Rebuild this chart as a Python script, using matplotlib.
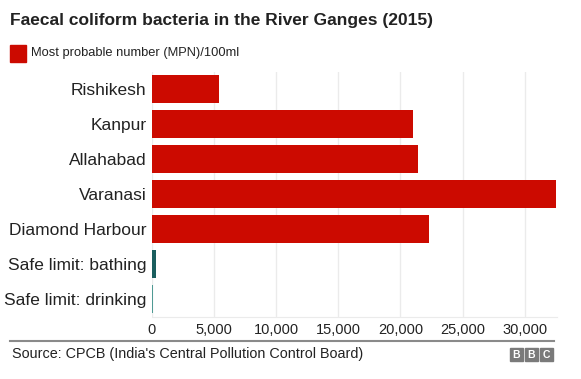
import matplotlib
matplotlib.use("Agg")
import matplotlib.pyplot as plt
from matplotlib.patches import Rectangle
from matplotlib.lines import Line2D

plt.rcParams['font.family'] = ['Liberation Sans', 'DejaVu Sans']

categories = ["Rishikesh", "Kanpur", "Allahabad", "Varanasi", "Diamond Harbour",
              "Safe limit: bathing", "Safe limit: drinking"]
values = [5400, 21000, 21400, 32500, 22300, 350, 50]
colors = ["#cc0a00"] * 5 + ["#1a5e5e", "#4f9a94"]
xticks = [0, 5000, 10000, 15000, 20000, 25000, 30000]
xticklabels = ["0", "5,000", "10,000", "15,000", "20,000", "25,000", "30,000"]

W, H = 581, 379
fig = plt.figure(figsize=(W / 100, H / 100), dpi=100)
ax = fig.add_axes([152 / W, 1 - 316.5 / H, (557 - 152) / W, (316.5 - 72) / H])

ypos = list(range(len(categories)))
ax.barh(ypos, values, height=0.8, color=colors, zorder=3)
ax.set_ylim(len(categories) - 0.5, -0.5)
ax.set_xlim(0, 32600)
ax.set_yticks(ypos)
ax.set_yticklabels(categories, fontsize=12.5, color="#222222")
ax.set_xticks(xticks)
ax.set_xticklabels(xticklabels, fontsize=10.5, color="#222222")
ax.tick_params(axis='both', length=0, pad=4)
ax.tick_params(axis='x', pad=5)
ax.grid(axis='x', color="#ebebeb", linewidth=1, zorder=0)
for s in ['top', 'right', 'left']:
    ax.spines[s].set_visible(False)
ax.spines['bottom'].set_color("#ebebeb")

fig.text(10 / W, 1 - 21 / H, "Faecal coliform bacteria in the River Ganges (2015)",
         fontsize=12.5, fontweight='bold', color="#222222", va='center', ha='left')
fig.patches.append(Rectangle((10 / W, 1 - 62 / H), 16 / W, 17 / H,
                             transform=fig.transFigure, color="#cc0a00"))
fig.text(31 / W, 1 - 53 / H, "Most probable number (MPN)/100ml",
         fontsize=9.3, color="#222222", va='center', ha='left')

fig.lines.append(Line2D([10 / W, 554 / W], [1 - 341 / H, 1 - 341 / H],
                        transform=fig.transFigure, color="#8a8a8a", linewidth=1.5))
fig.text(12 / W, 1 - 354 / H, "Source: CPCB (India's Central Pollution Control Board)",
         fontsize=10.35, color="#222222", va='center', ha='left')

for i, letter in enumerate("BBC"):
    x0 = 510 + i * 15
    fig.patches.append(Rectangle((x0 / W, 1 - 361 / H), 13 / W, 13 / H,
                                 transform=fig.transFigure, color="#7a7a7a"))
    fig.text((x0 + 6.5) / W, 1 - 354.5 / H, letter, fontsize=7.5, fontweight='bold',
             color="white", ha='center', va='center')

fig.savefig("out.png", dpi=100)
